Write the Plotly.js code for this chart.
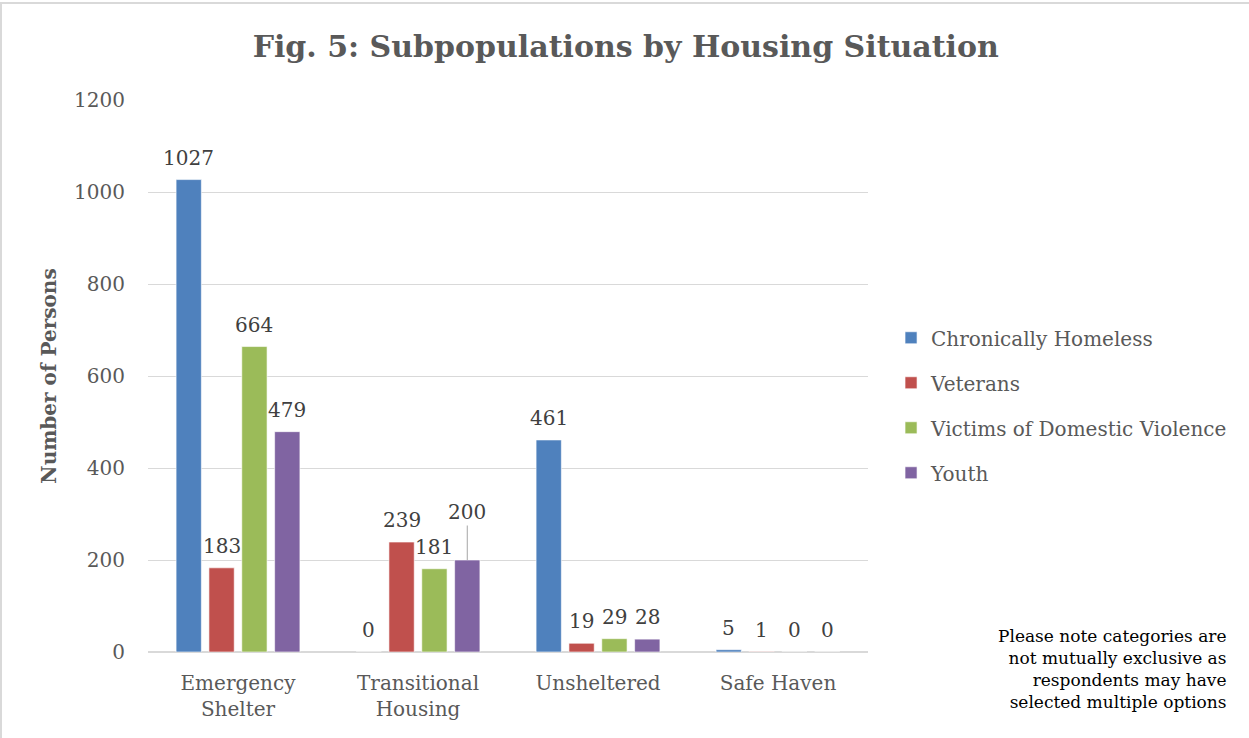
<!DOCTYPE html>
<html>
<head>
<meta charset="utf-8">
<script src="https://cdn.plot.ly/plotly-3.0.1.min.js"></script>
<style>
  body { margin: 0; background: #fff; }
  #frame { position: absolute; left: 0; top: 2px; width: 1260px; height: 750px;
           border-left: 2px solid #d9d9d9; border-top: 2px solid #d9d9d9; pointer-events: none; }
  #myDiv { position: absolute; left: 0; top: 0; width: 1249px; height: 738px; }
</style>
</head>
<body>
<div id="myDiv"></div>
<div id="frame"></div>
<script>
// Datos
const categories = ['Emergency<br>Shelter', 'Transitional<br>Housing', 'Unsheltered', 'Safe Haven'];
const seriesNames = ['Chronically Homeless', 'Veterans', 'Victims of Domestic Violence', 'Youth'];
const chronic = [1027, 0, 461, 5];
const veterans = [183, 239, 19, 1];
const domestic = [664, 181, 29, 0];
const youth = [479, 200, 28, 0];
const colors = ['#4F81BD', '#C0504D', '#9BBB59', '#8064A2'];
const yTicks = [0, 200, 400, 600, 800, 1000, 1200];
const note = 'Please note categories are<br>not mutually exclusive as<br>respondents may have<br>selected multiple options';

const fontFam = 'DejaVu Serif, serif';
const plotW = 1249 - 148 - 381;
const bargap = 0.27;
const slot = plotW / categories.length * (1 - bargap) / seriesNames.length;

const allSeries = [chronic, veterans, domestic, youth];

let traces = allSeries.map((vals, i) => ({
    type: 'bar',
    x: categories,
    y: vals,
    name: seriesNames[i],
    legendgroup: 'g' + i,
    marker: { color: colors[i], line: { color: 'rgba(255,255,255,0.6)', width: 1 } },
    hoverinfo: 'none'
}));

// Etiquetas de datos como anotaciones (una por barra)
let annotations = [];
allSeries.forEach((vals, i) => {
    vals.forEach((v, j) => {
        let a = {
            x: categories[j], y: v, xref: 'x', yref: 'y',
            text: String(v),
            xshift: (i - 1.5) * slot,
            font: { family: fontFam, size: 20, color: '#404040' },
            showarrow: false, yanchor: 'bottom', yshift: 8
        };
        // La etiqueta de Youth en Transitional Housing tiene linea guia
        if (i === 3 && j === 1) {
            a.showarrow = true; a.arrowhead = 0; a.arrowwidth = 1;
            a.arrowcolor = '#A6A6A6'; a.ax = 0; a.ay = -48; a.standoff = 0;
            a.yanchor = 'middle'; a.yshift = 0;
        }
        annotations.push(a);
    });
});

annotations.push({
    xref: 'paper', yref: 'paper', x: 1.5, y: -0.031,
    xanchor: 'right', yanchor: 'middle', align: 'right',
    text: note, showarrow: false,
    font: { family: fontFam, size: 17, color: '#000000' }
});

let layout = {
    width: 1249, height: 738,
    margin: { l: 148, r: 381, t: 100, b: 86 },
    paper_bgcolor: '#fff', plot_bgcolor: '#fff',
    font: { family: fontFam, size: 20, color: '#595959' },
    title: {
        text: '<b>Fig. 5: Subpopulations by Housing Situation</b>',
        font: { family: fontFam, size: 30, color: '#595959' },
        x: 0.501, xref: 'container', xanchor: 'center',
        y: 1 - 46 / 738, yref: 'container', yanchor: 'middle'
    },
    barmode: 'group', bargap: bargap, bargroupgap: 0.23,
    xaxis: {
        showgrid: false, zeroline: false, showline: false, ticks: '',
        ticklabelstandoff: 17,
        tickfont: { family: fontFam, size: 20, color: '#595959' },
        fixedrange: true
    },
    yaxis: {
        range: [0, 1200], tickvals: yTicks, showgrid: true, gridcolor: '#D9D9D9', gridwidth: 1,
        zeroline: true, zerolinecolor: '#D9D9D9', zerolinewidth: 2,
        showline: false, ticks: '', ticklabelstandoff: 22,
        tickfont: { family: fontFam, size: 20, color: '#595959' },
        title: { text: '<b>Number of Persons</b>', standoff: 12,
                 font: { family: fontFam, size: 20, color: '#595959' } },
        fixedrange: true
    },
    showlegend: true,
    legend: {
        x: 1.032, xanchor: 'left', y: 0.447, yanchor: 'middle',
        traceorder: 'grouped', tracegroupgap: 16,
        font: { family: fontFam, size: 20, color: '#595959' }
    },
    annotations: annotations
};

Plotly.newPlot('myDiv', traces, layout, { displayModeBar: false, staticPlot: true });
</script>
</body>
</html>
